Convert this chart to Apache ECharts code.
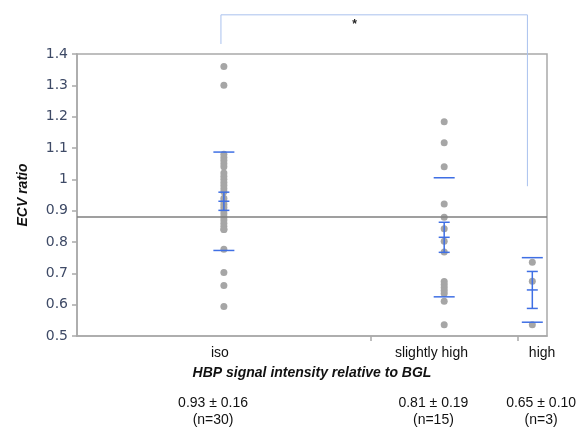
<!DOCTYPE html>
<html>
<head>
<meta charset="utf-8">
<script src="https://cdn.jsdelivr.net/npm/echarts@6/dist/echarts.min.js"></script>
<style>html,body{margin:0;padding:0;background:#fff}#c{width:580px;height:429px}</style>
</head>
<body>
<div id="c"></div>
<script>
// ---- data ----
const categories = ['iso', 'slightly high', 'high'];
const counts = [30, 15, 3];
const isoValues = [1.36, 1.30, 1.08, 1.07, 1.06, 1.05, 1.04, 1.02, 1.01, 1.00, 0.99, 0.98, 0.97, 0.96,
  0.94, 0.93, 0.92, 0.91, 0.90, 0.89, 0.88, 0.87, 0.86, 0.85, 0.84, 0.84, 0.777, 0.703, 0.661, 0.594];
const slightlyHighValues = [1.184, 1.117, 1.040, 0.921, 0.879, 0.842, 0.802, 0.768, 0.674, 0.664,
  0.655, 0.645, 0.636, 0.611, 0.536];
const highValues = [0.735, 0.675, 0.536];
const meanValues = [0.93, 0.815, 0.647];
const sdValues = [0.157, 0.19, 0.103];
const seValues = [0.029, 0.048, 0.059];
const statTexts = ['0.93 ± 0.16', '0.81 ± 0.19', '0.65 ± 0.10'];
const nTexts = ['(n=30)', '(n=15)', '(n=3)'];
const grandMean = 0.877;
const yMin = 0.5, yMax = 1.4, yStep = 0.1;
const sigMark = '*';

// ---- layout helpers ----
const total = counts.reduce((a, b) => a + b, 0);
const bounds = [];
let acc = 0;
const centers = counts.map(n => { const c = acc + n / 2; acc += n; bounds.push(acc); return c; });
const innerBounds = bounds.slice(0, -1);
const catLabelPos = [centers[0] - 0.4, centers[1] - 1.3, centers[2] + 1.0];
const statLabelPos = [centers[0] - 1.1, centers[1] - 1.1, centers[2] + 0.9];
const groups = [isoValues, slightlyHighValues, highValues];

const scatterData = [];
groups.forEach((vals, i) => vals.forEach(v => scatterData.push([centers[i], v])));
const barData = categories.map((c, i) => [centers[i], meanValues[i], sdValues[i], seValues[i]]);

function nearestIdx(arr, v) {
  let best = 0;
  arr.forEach((p, i) => { if (Math.abs(p - v) < Math.abs(arr[best] - v)) best = i; });
  return best;
}

const blue = '#3f6fe4';
const gray = '#a6a6a6';
const axisGray = '#a9a9a9';

const chart = echarts.init(document.getElementById('c'), null, { renderer: 'canvas' });
chart.setOption({
  animation: false,
  backgroundColor: '#fff',
  grid: { left: 77, right: 33, top: 54, bottom: 90, show: true, borderColor: axisGray, borderWidth: 1.5 },
  xAxis: [{
    type: 'value', min: 0, max: total,
    axisLine: { show: true, lineStyle: { color: axisGray, width: 1.5 } },
    axisTick: { show: true, customValues: innerBounds, length: 5, lineStyle: { color: axisGray, width: 1.5 } },
    splitLine: { show: false },
    axisLabel: {
      customValues: catLabelPos, margin: 10,
      fontFamily: 'Liberation Sans', fontSize: 14, color: '#111',
      formatter: v => categories[nearestIdx(catLabelPos, v)]
    },
    name: 'HBP signal intensity relative to BGL',
    nameLocation: 'middle', nameGap: 30,
    nameTextStyle: { fontFamily: 'Liberation Sans', fontSize: 14, fontWeight: 'bold', fontStyle: 'italic', color: '#111' }
  }, {
    type: 'value', min: 0, max: total, position: 'bottom', offset: 50,
    axisLine: { show: false }, axisTick: { show: false }, splitLine: { show: false },
    axisLabel: {
      customValues: statLabelPos, margin: 9,
      fontFamily: 'Liberation Sans', fontSize: 14, color: '#111', lineHeight: 17,
      formatter: v => { const i = nearestIdx(statLabelPos, v); return statTexts[i] + '\n' + nTexts[i]; }
    }
  }],
  yAxis: {
    type: 'value', min: yMin, max: yMax, interval: yStep,
    axisLine: { show: true, lineStyle: { color: axisGray, width: 1.5 } },
    axisTick: { show: true, length: 5, lineStyle: { color: axisGray, width: 1.5 } },
    splitLine: { show: false },
    axisLabel: { fontFamily: 'DejaVu Sans', fontSize: 14, color: '#3e4a66', margin: 9,
      formatter: v => String(Math.round(v * 10) / 10) },
    name: 'ECV ratio', nameLocation: 'middle', nameGap: 47,
    nameTextStyle: { fontFamily: 'Liberation Sans', fontSize: 14, fontWeight: 'bold', fontStyle: 'italic', color: '#111' }
  },
  series: [{
    type: 'scatter', data: scatterData, symbolSize: 7,
    itemStyle: { color: gray, opacity: 1 }, z: 2,
    markLine: {
      silent: true, symbol: 'none', label: { show: false },
      lineStyle: { color: '#7f7f7f', width: 1.5, type: 'solid' },
      data: [{ yAxis: grandMean }]
    }
  }, {
    type: 'custom', data: barData, z: 5,
    renderItem: (params, api) => {
      const x = api.value(0), m = api.value(1), sd = api.value(2), se = api.value(3);
      const pSdT = api.coord([x, m + sd]), pSdB = api.coord([x, m - sd]);
      const pSeT = api.coord([x, m + se]), pSeB = api.coord([x, m - se]), pM = api.coord([x, m]);
      const st = { stroke: blue, lineWidth: 1.5 };
      const hw = 10.5, sw = 5.5;
      const ln = (x1, y1, x2, y2) => ({ type: 'line', shape: { x1, y1, x2, y2 }, style: st });
      return { type: 'group', children: [
        ln(pSdT[0] - hw, pSdT[1], pSdT[0] + hw, pSdT[1]),
        ln(pSdB[0] - hw, pSdB[1], pSdB[0] + hw, pSdB[1]),
        ln(pSeT[0], pSeT[1], pSeB[0], pSeB[1]),
        ln(pSeT[0] - sw, pSeT[1], pSeT[0] + sw, pSeT[1]),
        ln(pM[0] - sw, pM[1], pM[0] + sw, pM[1]),
        ln(pSeB[0] - sw, pSeB[1], pSeB[0] + sw, pSeB[1])
      ] };
    }
  }, {
    type: 'custom', clip: false, z: 6,
    data: [[14.7, 46.0, 1.525, 1.432, 0.978]],
    renderItem: (params, api) => {
      const xl = api.value(0), xr = api.value(1), top = api.value(2), lb = api.value(3), rb = api.value(4);
      const a = api.coord([xl, lb]), b = api.coord([xl, top]), c = api.coord([xr, top]), d = api.coord([xr, rb]);
      const mid = api.coord([(xl + xr) / 2 - 2.0, top]);
      return { type: 'group', children: [
        { type: 'polyline', shape: { points: [a, b, c, d] }, style: { stroke: '#a9c1ee', lineWidth: 1, fill: null } },
        { type: 'text', x: mid[0], y: mid[1] + 4, style: { text: sigMark, fontSize: 12, fontWeight: 'bold',
          fontFamily: 'Liberation Sans', fill: '#222', align: 'center', verticalAlign: 'top' } }
      ] };
    }
  }]
});
</script>
</body>
</html>
